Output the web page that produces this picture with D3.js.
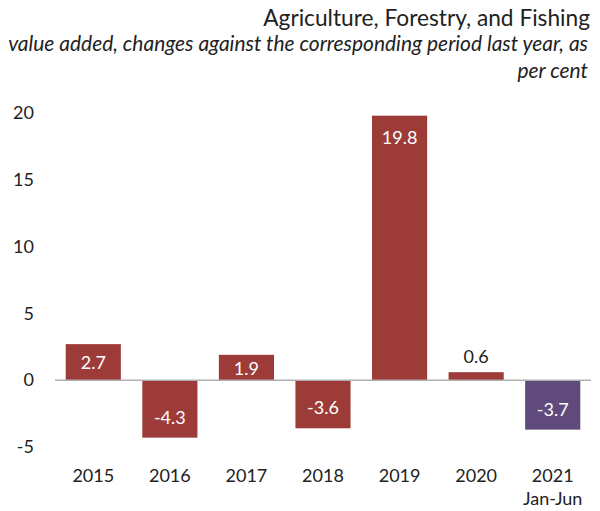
<!DOCTYPE html>
<html><head><meta charset="utf-8">
<script src="https://cdn.jsdelivr.net/npm/d3@7"></script>
<style>
body{margin:0;background:#fff;}
svg{font-family:Lato,"Open Sans",sans-serif;}
</style></head>
<body><svg id="chart" width="600" height="511"></svg>
<script>
const categories = ["2015","2016","2017","2018","2019","2020","2021\nJan-Jun"];
const values = [2.7,-4.3,1.9,-3.6,19.8,0.6,-3.7];
const yTicks = [-5,0,5,10,15,20];
const title = "Agriculture, Forestry, and Fishing";
const subtitleLines = ["value added, changes against the corresponding period last year, as","per cent"];

const svg = d3.select("#chart");
const red = "#9d3b39", purple = "#5f4a7b";

const x = d3.scaleBand().domain(categories).range([55,591]).paddingInner(0.28).paddingOuter(0.14);
const y = d3.scaleLinear().domain([-5,20]).range([447,113]);

// title (fit to the reference width)
const tt = svg.append("text").attr("x",590).attr("y",26).attr("text-anchor","end")
  .attr("font-size",20).attr("fill","#222").text(title);
const tw = tt.node().getComputedTextLength();
tt.attr("font-size",20*327/tw);

const subs = subtitleLines.map((s,i)=>svg.append("text").attr("x",588).attr("y",51+i*27).attr("text-anchor","end")
    .attr("font-size",17).attr("font-style","italic").attr("fill","#222").text(s));
const sw = subs[0].node().getComputedTextLength();
const sfs = 17*580/sw;
subs.forEach(s=>s.attr("font-size",sfs));

// y axis
const yAxis = d3.axisLeft(y).tickValues(yTicks).tickSize(0).tickPadding(0).tickFormat(d=>String(d));
const ga = svg.append("g").attr("transform","translate(34,0)").call(yAxis);
ga.select(".domain").remove();
ga.selectAll("text").attr("font-size",18).attr("fill","#222").attr("font-family","Lato,'Open Sans',sans-serif");

// bars
svg.selectAll("rect.bar").data(values).join("rect").attr("class","bar")
  .attr("x",(d,i)=>x(categories[i])).attr("width",x.bandwidth())
  .attr("y",d=>y(Math.max(0,d))).attr("height",d=>Math.abs(y(d)-y(0)))
  .attr("fill",(d,i)=>i===values.length-1?purple:red);

// zero line
svg.append("line").attr("x1",55).attr("x2",591).attr("y1",y(0)).attr("y2",y(0))
  .attr("stroke","#b0b0b0").attr("stroke-width",1.5);

// value labels
const inside = d => Math.abs(y(d)-y(0)) >= 20;
svg.selectAll("text.val").data(values).join("text").attr("class","val")
  .attr("x",(d,i)=>x(categories[i])+x.bandwidth()/2)
  .attr("y",d=>{
    if(!inside(d)) return y(d)-16;
    const h = Math.abs(y(d)-y(0));
    const off = Math.min(21, h/2);
    return d>=0 ? y(d)+off : y(d)-off;
  })
  .attr("dominant-baseline","central").attr("text-anchor","middle")
  .attr("font-size",18)
  .attr("fill",d=>inside(d)?"#fff":"#222")
  .text(d=>d.toFixed(1));

// x labels
const gx = svg.append("g");
categories.forEach(c=>{
  const parts = c.split("\n");
  parts.forEach((p,i)=>gx.append("text").attr("x",x(c)+x.bandwidth()/2).attr("y",482+i*23)
    .attr("text-anchor","middle").attr("font-size",18).attr("fill","#222").text(p));
});
</script></body></html>
